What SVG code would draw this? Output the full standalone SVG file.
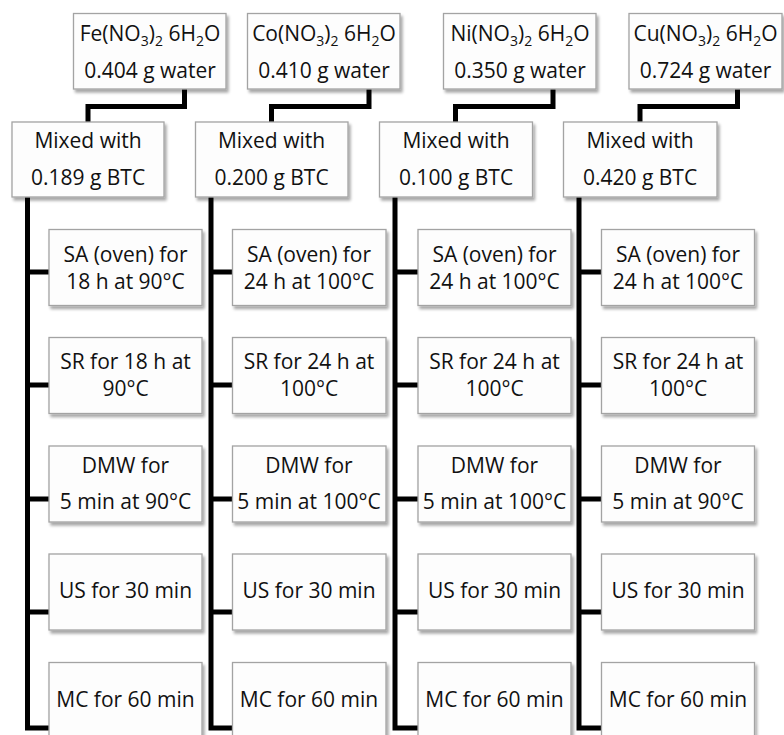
<svg xmlns="http://www.w3.org/2000/svg" width="784" height="735" viewBox="0 0 784 735">
<defs>
<filter id="sh" x="-10%" y="-10%" width="125%" height="130%">
<feGaussianBlur in="SourceAlpha" stdDeviation="1.8"/>
<feOffset dx="1.5" dy="2.5" result="b"/>
<feComponentTransfer><feFuncA type="linear" slope="0.35"/></feComponentTransfer>
<feMerge><feMergeNode/><feMergeNode in="SourceGraphic"/></feMerge>
</filter>
<style>
.b{fill:#fdfdfd;stroke:#a3a3a3;stroke-width:1.3;filter:url(#sh)}
.t{font-family:"Open Sans","Noto Sans","Liberation Sans",sans-serif;font-size:21px;fill:#111;text-anchor:middle}
.s{font-size:14px}
.c{fill:none;stroke:#000;stroke-width:5;stroke-linejoin:miter;stroke-linecap:butt}
</style>
</defs>
<rect width="784" height="735" fill="#fff"/>

<g id="connectors">
<path class="c" d="M184.5 89V106.5H88V122"/>
<path class="c" d="M369 89V106.5H271.5V122"/>
<path class="c" d="M553 89V106.5H455.5V122"/>
<path class="c" d="M737.5 89V106.5H640V122"/>
<path class="c" d="M27.5 197V728H49M27.5 272H49M27.5 385H49M27.5 499H49M27.5 612H49"/>
<path class="c" d="M211 197V728H232M211 272H232M211 385H232M211 499H232M211 612H232"/>
<path class="c" d="M395 197V728H418M395 272H418M395 385H418M395 499H418M395 612H418"/>
<path class="c" d="M579 197V728H601M579 272H601M579 385H601M579 499H601M579 612H601"/>
</g>

<g id="fe-salt"><rect class="b" x="73.5" y="13.5" width="152.5" height="75.5"/>
<text class="t" x="150" y="41">Fe(NO<tspan class="s" dy="5">3</tspan><tspan dy="-5">)</tspan><tspan class="s" dy="5">2</tspan><tspan dy="-5"> 6H</tspan><tspan class="s" dy="5">2</tspan><tspan dy="-5">O</tspan></text>
<text class="t" x="150" y="78">0.404 g  water</text></g>
<g id="co-salt"><rect class="b" x="247.5" y="13.5" width="152.5" height="75.5"/>
<text class="t" x="324" y="41">Co(NO<tspan class="s" dy="5">3</tspan><tspan dy="-5">)</tspan><tspan class="s" dy="5">2</tspan><tspan dy="-5"> 6H</tspan><tspan class="s" dy="5">2</tspan><tspan dy="-5">O</tspan></text>
<text class="t" x="324" y="78">0.410 g water</text></g>
<g id="ni-salt"><rect class="b" x="443.5" y="13.5" width="152.5" height="75.5"/>
<text class="t" x="520" y="41">Ni(NO<tspan class="s" dy="5">3</tspan><tspan dy="-5">)</tspan><tspan class="s" dy="5">2</tspan><tspan dy="-5"> 6H</tspan><tspan class="s" dy="5">2</tspan><tspan dy="-5">O</tspan></text>
<text class="t" x="520" y="78">0.350 g  water</text></g>
<g id="cu-salt"><rect class="b" x="629" y="13.5" width="153" height="75.5"/>
<text class="t" x="705.5" y="41">Cu(NO<tspan class="s" dy="5">3</tspan><tspan dy="-5">)</tspan><tspan class="s" dy="5">2</tspan><tspan dy="-5"> 6H</tspan><tspan class="s" dy="5">2</tspan><tspan dy="-5">O</tspan></text>
<text class="t" x="705.5" y="78">0.724 g water</text></g>

<g id="fe-mix"><rect class="b" x="12" y="122" width="152" height="75"/>
<text class="t" x="88" y="148">Mixed with</text><text class="t" x="88" y="185">0.189 g BTC</text></g>
<g id="co-mix"><rect class="b" x="195.5" y="122" width="152.5" height="75"/>
<text class="t" x="271.5" y="148">Mixed with</text><text class="t" x="271.5" y="185">0.200 g BTC</text></g>
<g id="ni-mix"><rect class="b" x="379.5" y="122" width="153" height="75"/>
<text class="t" x="456" y="148">Mixed with</text><text class="t" x="456" y="185">0.100 g BTC</text></g>
<g id="cu-mix"><rect class="b" x="563.5" y="122" width="153.5" height="75"/>
<text class="t" x="640" y="148">Mixed with</text><text class="t" x="640" y="185">0.420 g BTC</text></g>

<g id="fe-sa"><rect class="b" x="49" y="229.5" width="153" height="76"/>
<text class="t" x="125.5" y="262">SA (oven) for</text><text class="t" x="125.5" y="289">18 h at 90°C</text></g>
<g id="fe-sr"><rect class="b" x="49" y="337.5" width="153" height="76"/>
<text class="t" x="125.5" y="369">SR for 18 h at</text><text class="t" x="125.5" y="396">90°C</text></g>
<g id="fe-dmw"><rect class="b" x="49" y="446" width="153" height="76"/>
<text class="t" x="125.5" y="473">DMW for</text><text class="t" x="125.5" y="509">5 min at 90°C</text></g>
<g id="fe-us"><rect class="b" x="49" y="554" width="153" height="76"/>
<text class="t" x="125.5" y="598">US for 30 min</text></g>
<g id="fe-mc"><rect class="b" x="49" y="662.5" width="153" height="80"/>
<text class="t" x="125.5" y="707">MC for 60 min</text></g>

<g id="co-sa"><rect class="b" x="232.5" y="229.5" width="153.5" height="76"/>
<text class="t" x="309" y="262">SA (oven) for</text><text class="t" x="309" y="289">24 h at 100°C</text></g>
<g id="co-sr"><rect class="b" x="232.5" y="337.5" width="153.5" height="76"/>
<text class="t" x="309" y="369">SR for 24 h at</text><text class="t" x="309" y="396">100°C</text></g>
<g id="co-dmw"><rect class="b" x="232.5" y="446" width="153.5" height="76"/>
<text class="t" x="309" y="473">DMW for</text><text class="t" x="309" y="509">5 min at 100°C</text></g>
<g id="co-us"><rect class="b" x="232.5" y="554" width="153.5" height="76"/>
<text class="t" x="309" y="598">US for 30 min</text></g>
<g id="co-mc"><rect class="b" x="232.5" y="662.5" width="153.5" height="80"/>
<text class="t" x="309" y="707">MC for 60 min</text></g>

<g id="ni-sa"><rect class="b" x="418" y="229.5" width="153" height="76"/>
<text class="t" x="494.5" y="262">SA (oven) for</text><text class="t" x="494.5" y="289">24 h at 100°C</text></g>
<g id="ni-sr"><rect class="b" x="418" y="337.5" width="153" height="76"/>
<text class="t" x="494.5" y="369">SR for 24 h at</text><text class="t" x="494.5" y="396">100°C</text></g>
<g id="ni-dmw"><rect class="b" x="418" y="446" width="153" height="76"/>
<text class="t" x="494.5" y="473">DMW for</text><text class="t" x="494.5" y="509">5 min at 100°C</text></g>
<g id="ni-us"><rect class="b" x="418" y="554" width="153" height="76"/>
<text class="t" x="494.5" y="598">US for 30 min</text></g>
<g id="ni-mc"><rect class="b" x="418" y="662.5" width="153" height="80"/>
<text class="t" x="494.5" y="707">MC for 60 min</text></g>

<g id="cu-sa"><rect class="b" x="601.5" y="229.5" width="153" height="76"/>
<text class="t" x="678" y="262">SA (oven) for</text><text class="t" x="678" y="289">24 h at 100°C</text></g>
<g id="cu-sr"><rect class="b" x="601.5" y="337.5" width="153" height="76"/>
<text class="t" x="678" y="369">SR for 24 h at</text><text class="t" x="678" y="396">100°C</text></g>
<g id="cu-dmw"><rect class="b" x="601.5" y="446" width="153" height="76"/>
<text class="t" x="678" y="473">DMW for</text><text class="t" x="678" y="509">5 min at 90°C</text></g>
<g id="cu-us"><rect class="b" x="601.5" y="554" width="153" height="76"/>
<text class="t" x="678" y="598">US for 30 min</text></g>
<g id="cu-mc"><rect class="b" x="601.5" y="662.5" width="153" height="80"/>
<text class="t" x="678" y="707">MC for 60 min</text></g>
</svg>
